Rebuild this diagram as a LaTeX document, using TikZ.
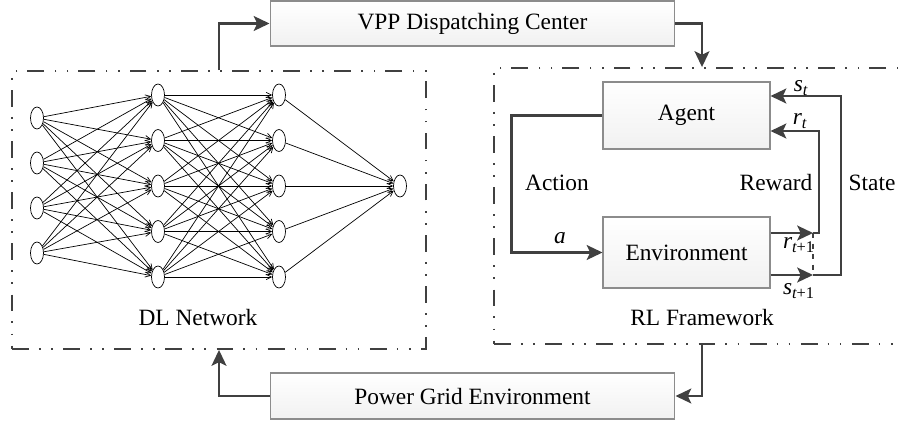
\documentclass[tikz,border=0pt]{standalone}
\usepackage{fontspec}
\setmainfont{Liberation Serif}
\usetikzlibrary{arrows.meta,shapes.geometric,positioning,calc}
\definecolor{linegray}{HTML}{404040}
\definecolor{boxgray}{HTML}{8C8C8C}
\tikzset{
  block/.style={draw=boxgray, top color=white, bottom color=gray!11,
    line width=0.6pt, inner sep=0pt},
  dashframe/.style={draw=linegray, line width=1.1pt, inner sep=0pt,
    dash pattern=on 9.6pt off 5.7pt on 0.9pt off 6pt on 0.9pt off 6pt},
  flow/.style={draw=linegray, line width=1.2pt,
    -{Stealth[length=9pt,width=8.5pt,inset=2pt]}},
  neuron/.style={draw, ellipse, fill=white, minimum width=0.26cm,
    minimum height=0.44cm, inner sep=0pt, line width=0.4pt},
  syn/.style={line width=0.4pt, -{Straight Barb[length=3pt,width=3pt]}}
}

\begin{document}
\begin{tikzpicture}[x=0.02cm, y=-0.02cm, font=\fontsize{13.3}{16}\selectfont]
      \useasboundingbox (0,0) rectangle (902,423);
      \clip (0,0) rectangle (902,423);

      \node[block, minimum width=8.1cm, minimum height=0.9cm] (vpp) at (472.5,23.5) {VPP Dispatching Center};
      \node[block, minimum width=8.1cm, minimum height=0.92cm] (grid) at (472.5,396) {Power Grid Environment};

      \node[dashframe, minimum width=8.28cm, minimum height=5.56cm] (dl) at (219,210) {};
      \node[dashframe, minimum width=8.32cm, minimum height=5.52cm] (rl) at (702,206) {};

      % network
      \foreach \i in {0,...,3}
        \node[neuron] (a\i) at (37,118+45*\i) {};
      \foreach \i in {0,...,4} {
        \node[neuron] (b\i) at (158,95+45.5*\i) {};
        \node[neuron] (c\i) at (279,95+45.5*\i) {};
      }
      \node[neuron] (o) at (400,186) {};

      \foreach \i in {0,...,3}
        \foreach \j in {0,...,4}
          \draw[syn] (a\i) -- (b\j);
      \foreach \i in {0,...,4}
        \foreach \j in {0,...,4}
          \draw[syn] (b\i) -- (c\j);
      \foreach \i in {0,...,4}
        \draw[syn] (c\i) -- (o);

      \node (dllbl) at (198,318) {DL Network};
      \node (rllbl) at (702,318) {RL Framework};

      \draw[flow] (dl.north) |- (vpp.west);
      \draw[flow] (vpp.east) -| (rl.north);
      \draw[flow] (rl.south) |- (grid.east);
      \draw[flow] (grid.west) -| (dl.south);

      % RL loop
      \node[block, minimum width=3.34cm, minimum height=1.34cm] (agent) at (686.5,115.5) {Agent};
      \node[block, minimum width=3.34cm, minimum height=1.42cm] (env) at (686.5,252.5) {Environment};

      \coordinate (rt) at (813,233);
      \coordinate (st) at (813,275);
      \coordinate (rturn) at (819,131);
      \coordinate (sturn) at (841,96);

      \draw[flow] (agent.west) -- ++(-91,0) |- (env.west);
      \draw[flow] (env.east |- rt) -- (rt);
      \draw[flow] (env.east |- st) -- (st);
      \draw[flow] (rt) -| (rturn) -- (agent.east |- rturn);
      \draw[flow] (st) -| (sturn) -- (agent.east |- sturn);
      \draw[draw=linegray, line width=0.7pt, dashed] (rt) -- (st);

      \node (act) at (557,183) {Action};
      \node (rew) at (776,183) {Reward};
      \node (sta) at (872,183) {State};
      \node (alab) at (560,238) {\itshape a};
      \node (stlab) at (801,88) {\itshape s\textsubscript{t}};
      \node (rtlab) at (800,121) {\itshape r\textsubscript{t}};
      \node (rt1lab) at (799,245) {\itshape r\textsubscript{t\upshape +1}};
      \node (st1lab) at (799,291) {\itshape s\textsubscript{t\upshape +1}};
    \end{tikzpicture}
\end{document}
